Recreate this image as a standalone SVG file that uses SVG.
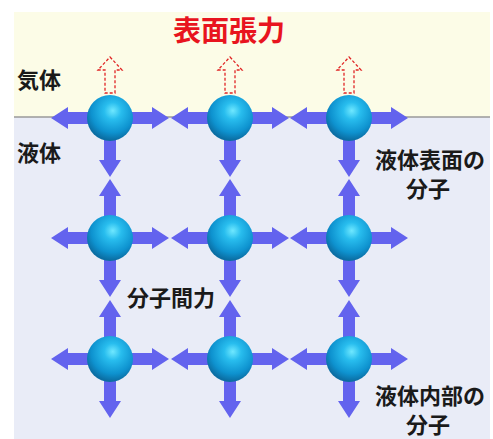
<svg xmlns="http://www.w3.org/2000/svg" xmlns:xlink="http://www.w3.org/1999/xlink" width="493" height="439" viewBox="0 0 493 439">
  <style>
    .lbl { font-family: "Noto Sans CJK JP", "Noto Sans", sans-serif; font-weight: bold; fill: #1a1a1a; font-size: 22px; }
    .title { font-family: "Noto Sans CJK JP", "Noto Sans", sans-serif; font-weight: bold; fill: #e8141e; font-size: 28px; }
    .force { fill: #6363ee; }
    .tension { fill: none; stroke: #e02424; stroke-width: 1.3; stroke-dasharray: 3 2; }
  </style>
  <defs>
    <radialGradient id="ball" cx="0.56" cy="0.36" r="0.62" fx="0.56" fy="0.34">
      <stop offset="0" stop-color="#6fe8ff"/>
      <stop offset="0.3" stop-color="#28bdee"/>
      <stop offset="0.75" stop-color="#0e92cf"/>
      <stop offset="1" stop-color="#0b6ea3"/>
    </radialGradient>
    <!-- block arrow pointing along +x, tail under the sphere -->
    <path id="arr" class="force" d="M18,-6 H42 V-11 L59,0 L42,11 V6 H18 Z"/>
    <!-- dashed outline arrow pointing up, tip at origin -->
    <path id="up" class="tension" d="M0,0 L12,13 H5 V36 H-5 V13 H-12 Z"/>
    <circle id="mol" r="23" fill="url(#ball)"/>
  </defs>

  <!-- gas and liquid regions -->
  <rect x="14" y="12" width="476" height="105" fill="#fcfce7"/>
  <rect x="14" y="117" width="476" height="322" fill="#e9ecf7"/>
  <line x1="14" y1="117" x2="490" y2="117" stroke="#9a9a9a" stroke-width="1.5"/>

  <g id="connectors">
    <!-- row 1 (surface) -->
    <use xlink:href="#arr" transform="translate(110,118) rotate(180)"/>
    <use xlink:href="#arr" transform="translate(110,118)"/>
    <use xlink:href="#arr" transform="translate(110,118) rotate(90)"/>
    <use xlink:href="#arr" transform="translate(230,118) rotate(180)"/>
    <use xlink:href="#arr" transform="translate(230,118)"/>
    <use xlink:href="#arr" transform="translate(230,118) rotate(90)"/>
    <use xlink:href="#arr" transform="translate(349,118) rotate(180)"/>
    <use xlink:href="#arr" transform="translate(349,118)"/>
    <use xlink:href="#arr" transform="translate(349,118) rotate(90)"/>
    <!-- row 2 -->
    <use xlink:href="#arr" transform="translate(110,238) rotate(180)"/>
    <use xlink:href="#arr" transform="translate(110,238)"/>
    <use xlink:href="#arr" transform="translate(110,238) rotate(90)"/>
    <use xlink:href="#arr" transform="translate(110,238) rotate(-90)"/>
    <use xlink:href="#arr" transform="translate(230,238) rotate(180)"/>
    <use xlink:href="#arr" transform="translate(230,238)"/>
    <use xlink:href="#arr" transform="translate(230,238) rotate(90)"/>
    <use xlink:href="#arr" transform="translate(230,238) rotate(-90)"/>
    <use xlink:href="#arr" transform="translate(349,238) rotate(180)"/>
    <use xlink:href="#arr" transform="translate(349,238)"/>
    <use xlink:href="#arr" transform="translate(349,238) rotate(90)"/>
    <use xlink:href="#arr" transform="translate(349,238) rotate(-90)"/>
    <!-- row 3 -->
    <use xlink:href="#arr" transform="translate(110,359) rotate(180)"/>
    <use xlink:href="#arr" transform="translate(110,359)"/>
    <use xlink:href="#arr" transform="translate(110,359) rotate(90)"/>
    <use xlink:href="#arr" transform="translate(110,359) rotate(-90)"/>
    <use xlink:href="#arr" transform="translate(230,359) rotate(180)"/>
    <use xlink:href="#arr" transform="translate(230,359)"/>
    <use xlink:href="#arr" transform="translate(230,359) rotate(90)"/>
    <use xlink:href="#arr" transform="translate(230,359) rotate(-90)"/>
    <use xlink:href="#arr" transform="translate(349,359) rotate(180)"/>
    <use xlink:href="#arr" transform="translate(349,359)"/>
    <use xlink:href="#arr" transform="translate(349,359) rotate(90)"/>
    <use xlink:href="#arr" transform="translate(349,359) rotate(-90)"/>
    <!-- surface tension -->
    <use xlink:href="#up" transform="translate(110,57)"/>
    <use xlink:href="#up" transform="translate(230,57)"/>
    <use xlink:href="#up" transform="translate(349,57)"/>
  </g>

  <g id="m11"><use xlink:href="#mol" x="110" y="118"/></g>
  <g id="m12"><use xlink:href="#mol" x="230" y="118"/></g>
  <g id="m13"><use xlink:href="#mol" x="349" y="118"/></g>
  <g id="m21"><use xlink:href="#mol" x="110" y="238"/></g>
  <g id="m22"><use xlink:href="#mol" x="230" y="238"/></g>
  <g id="m23"><use xlink:href="#mol" x="349" y="238"/></g>
  <g id="m31"><use xlink:href="#mol" x="110" y="359"/></g>
  <g id="m32"><use xlink:href="#mol" x="230" y="359"/></g>
  <g id="m33"><use xlink:href="#mol" x="349" y="359"/></g>

  <g id="labels">
    <text class="title" x="229" y="41" text-anchor="middle">表面張力</text>
    <text class="lbl" x="17" y="88">気体</text>
    <text class="lbl" x="17" y="161">液体</text>
    <text class="lbl" text-anchor="middle"><tspan x="430" y="168">液体表面の</tspan><tspan x="428" y="197">分子</tspan></text>
    <text class="lbl" x="127" y="306">分子間力</text>
    <text class="lbl" text-anchor="middle"><tspan x="430" y="404">液体内部の</tspan><tspan x="428" y="433">分子</tspan></text>
  </g>
</svg>
